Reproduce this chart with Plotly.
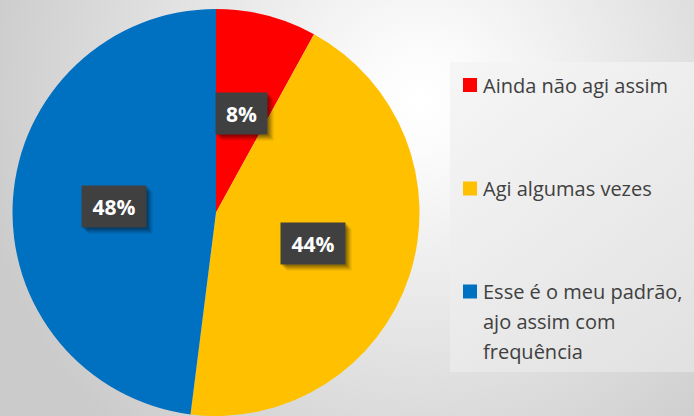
import base64
import math
import textwrap
import plotly.graph_objects as go

# ---- data ----
labels = ["Ainda não agi assim", "Agi algumas vezes",
          "Esse é o meu padrão, ajo assim com frequência"]
values = [8, 44, 48]
colors = ["#FF0000", "#FFC000", "#0070C0"]

W, H = 694, 416
dom_x = [12.5 / W, 419.5 / W]
dom_y = [0.0, 407 / H]

# ---- background (radial gradient + legend panel) as inline SVG ----
svg = f'''<svg xmlns="http://www.w3.org/2000/svg" width="{W}" height="{H}" viewBox="0 0 {W} {H}">
<defs>
<radialGradient id="bg" gradientUnits="userSpaceOnUse" cx="420" cy="100" r="450">
<stop offset="0" stop-color="#ffffff"/>
<stop offset="0.12" stop-color="#fbfbfb"/>
<stop offset="1" stop-color="#cbcbcb"/>
</radialGradient>
<linearGradient id="box" gradientUnits="userSpaceOnUse" x1="450" y1="62" x2="694" y2="372">
<stop offset="0" stop-color="#f6f6f6"/>
<stop offset="1" stop-color="#e1e1e1"/>
</linearGradient>
</defs>
<rect width="{W}" height="{H}" fill="url(#bg)"/>
<rect x="450" y="62" width="260" height="310" fill="url(#box)"/>
</svg>'''
bg_uri = "data:image/svg+xml;base64," + base64.b64encode(svg.encode("utf-8")).decode()

fig = go.Figure(go.Pie(
    labels=labels, values=values, sort=False, direction="clockwise", rotation=0,
    marker=dict(colors=colors, line=dict(width=0)),
    textinfo="none", hoverinfo="skip", showlegend=False,
    domain=dict(x=dom_x, y=dom_y),
))

# ---- percentage labels in dark boxes ----
cx = (dom_x[0] + dom_x[1]) / 2 * W
cy = (1 - (dom_y[0] + dom_y[1]) / 2) * H
r = min((dom_x[1] - dom_x[0]) * W, (dom_y[1] - dom_y[0]) * H) / 2
total = sum(values)
cum = 0
annotations = []
for v in values:
    mid = (cum + v / 2) / total * 2 * math.pi
    cum += v
    px = cx + 0.5 * r * math.sin(mid)
    py = cy - 0.5 * r * math.cos(mid)
    txt = f"{round(v / total * 100)}%"
    bw = 13 * len(txt) + 25
    common = dict(x=px / W, y=1 - py / H, xref="paper", yref="paper",
                  showarrow=False, width=bw, height=41, borderpad=0,
                  xanchor="center", yanchor="middle")
    for off, op in [(6, 0.10), (4, 0.18), (2, 0.22)]:
        annotations.append(dict(text=" ", bgcolor=f"rgba(0,0,0,{op})",
                                xshift=off, yshift=-off, **common))
    annotations.append(dict(text=f"<b>{txt}</b>", bgcolor="#404040",
                            font=dict(family="Open Sans", size=21, color="white"),
                            **common))

# ---- legend drawn manually ----
shapes = []
item_y = [85, 188.5, 291.5]
line_gap = 30
for lab, col, yc in zip(labels, colors, item_y):
    shapes.append(dict(type="rect", xref="paper", yref="paper",
                       x0=463 / W, x1=477 / W, y0=1 - (yc + 7) / H, y1=1 - (yc - 7) / H,
                       fillcolor=col, line=dict(width=0)))
    for i, line in enumerate(textwrap.wrap(lab, 20)):
        annotations.append(dict(text=line, x=481 / W, y=1 - (yc + i * line_gap) / H,
                                xref="paper", yref="paper", showarrow=False,
                                xanchor="left", yanchor="middle",
                                font=dict(family="Open Sans", size=20, color="#404040")))

fig.update_layout(
    width=W, height=H, margin=dict(l=0, r=0, t=0, b=0),
    paper_bgcolor="#d8d8d8", plot_bgcolor="rgba(0,0,0,0)",
    images=[dict(source=bg_uri, xref="paper", yref="paper", x=0, y=1,
                 sizex=1, sizey=1, sizing="stretch", xanchor="left",
                 yanchor="top", layer="below")],
    annotations=annotations, shapes=shapes, showlegend=False,
)

fig.write_html("out.html", config={"displayModeBar": False},
               post_script="document.body.style.margin='0';document.body.style.overflow='hidden';")
